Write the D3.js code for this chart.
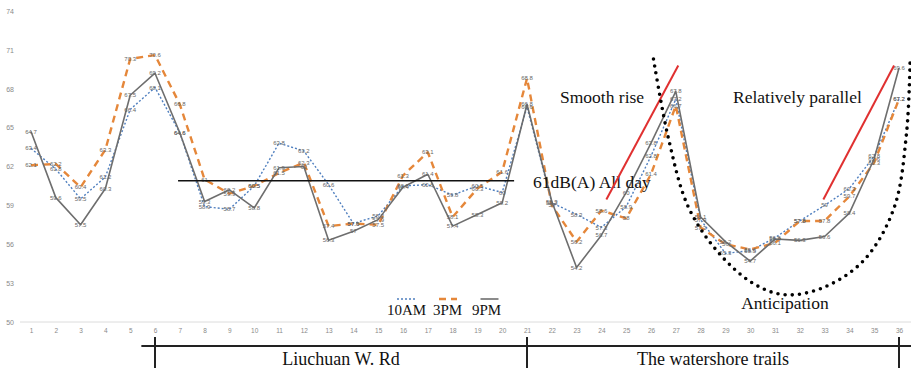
<!DOCTYPE html>
<html>
<head>
<meta charset="utf-8">
<script src="https://cdn.jsdelivr.net/npm/d3@7"></script>
<style>
  body { margin: 0; background: #fff; }
  svg { display: block; }
</style>
</head>
<body>
<div id="chart"></div>
<script>
const width = 911;
const height = 370;

const categories = [1, 2, 3, 4, 5, 6, 7, 8, 9, 10, 11, 12, 13, 14, 15, 16, 17, 18,
  19, 20, 21, 22, 23, 24, 25, 26, 27, 28, 29, 30, 31, 32, 33, 34, 35, 36];

const am10 = [63.4, 61.8, 59.5, 61.2, 66.4, 68.1, 64.6, 58.9, 58.7, 60.5, 63.8, 63.2,
  60.6, 57.6, 58.2, 60.5, 60.6, 59.8, 60.5, 60.0, 66.6, 59.2, 58.3, 57.3,
  58.9, 62.8, 67.2, 57.9, 55.3, 55.5, 56.5, 57.8, 59.0, 60.3, 62.8, 67.2];

const pm3 = [62.1, 62.2, 60.4, 63.3, 70.3, 70.6, 66.8, 61.0, 59.9, 60.5, 61.5, 62.3,
  57.4, 57.6, 57.5, 61.3, 63.1, 58.1, 60.3, 61.6, 68.8, 59.0, 56.2, 58.6,
  58.0, 61.4, 66.7, 57.3, 56.0, 55.6, 56.1, 57.8, 57.8, 59.7, 62.3, 67.2];

const pm9 = [64.7, 59.6, 57.5, 60.3, 67.5, 69.2, 64.6, 59.3, 60.2, 58.8, 61.9, 62.0,
  56.3, 57.0, 57.9, 60.4, 61.4, 57.4, 58.3, 59.2, 66.8, 59.3, 54.2, 56.7,
  60.0, 63.8, 67.8, 58.1, 56.2, 54.7, 56.4, 56.3, 56.6, 58.4, 62.6, 69.6];

const yTicks = [50, 53, 56, 59, 62, 65, 68, 71, 74];

const seriesNames = ["10AM", "3PM", "9PM"];

// sections along the bottom (category where each starts / ends)
const sections = [
  { name: "Liuchuan W. Rd", from: 6, to: 21 },
  { name: "The watershore trails", from: 21, to: 36 }
];

// annotation shapes, in data units (category, dB)
const limitLine = [[6.93, 60.9], [20.48, 60.9]];
const riseLine = [[24.2, 59.45], [27.1, 69.8]];
const parallelLine = [[32.95, 59.45], [35.8, 69.8]];
const anticipationCurve = [[26.1, 70.3], [26.7, 64.2], [27.5, 58.9], [28.7, 55.4],
  [30.1, 53.0], [31.4, 52.1], [33.0, 52.7], [34.6, 54.8], [35.8, 58.8], [36.3, 64.5], [36.45, 70.3]];

const x = d3.scaleLinear()
  .domain([1, 36])
  .range([31, 899]);

const y = d3.scaleLinear()
  .domain([50, 74])
  .range([322, 11]);

const svg = d3.select("#chart").append("svg")
  .attr("width", width)
  .attr("height", height)
  .attr("viewBox", [0, 0, width, height]);

// baseline grid line
svg.append("line")
  .attr("x1", 20).attr("x2", width)
  .attr("y1", y(50)).attr("y2", y(50))
  .attr("stroke", "#dcdcdc")
  .attr("stroke-width", 1);

svg.append("g")
  .attr("transform", "translate(15,0)")
  .call(d3.axisLeft(y).tickValues(yTicks).tickSize(0).tickPadding(1))
  .call(g => g.select(".domain").remove())
  .call(g => g.selectAll("text")
    .attr("fill", "#8a8a8a")
    .attr("font-size", 7)
    .attr("font-family", "Liberation Sans, Arial, sans-serif"));

svg.append("g")
  .attr("transform", `translate(0,${y(50)})`)
  .call(d3.axisBottom(x).tickValues(categories).tickSize(0).tickPadding(6).tickFormat(d3.format("d")))
  .call(g => g.select(".domain").remove())
  .call(g => g.selectAll("text")
    .attr("fill", "#8a8a8a")
    .attr("font-size", 6.5)
    .attr("font-family", "Liberation Sans, Arial, sans-serif"));

const styles = [
  { color: "#4f7fbf", width: 1.4, dash: "2,2" },
  { color: "#e5873a", width: 2.4, dash: "7,5" },
  { color: "#6e6e6e", width: 1.6, dash: null }
];
const allSeries = [am10, pm3, pm9];

const line = d3.line()
  .x((d, i) => x(categories[i]))
  .y(d => y(d));

svg.append("g")
  .selectAll("path")
  .data(allSeries)
  .join("path")
  .attr("fill", "none")
  .attr("stroke", (d, i) => styles[i].color)
  .attr("stroke-width", (d, i) => styles[i].width)
  .attr("stroke-dasharray", (d, i) => styles[i].dash)
  .attr("stroke-linejoin", "round")
  .attr("d", line);

// value labels on every point
allSeries.forEach((s, k) => {
  svg.append("g")
    .attr("font-family", "Liberation Sans, Arial, sans-serif")
    .attr("font-size", 6)
    .attr("fill", "#666")
    .attr("text-anchor", "middle")
    .selectAll("text")
    .data(s)
    .join("text")
    .attr("x", (d, i) => x(categories[i]))
    .attr("y", d => y(d))
    .attr("dy", "0.35em")
    .text(d => d3.format(".1f")(d).replace(/\.0$/, ""));
});

const serif = "Liberation Serif, Times New Roman, serif";
const dataLine = d3.line().x(d => x(d[0])).y(d => y(d[1]));

// 61 dB(A) limit
svg.append("path")
  .attr("d", dataLine(limitLine))
  .attr("stroke", "#111")
  .attr("stroke-width", 1.6)
  .attr("fill", "none");
svg.append("text")
  .attr("x", x(limitLine[1][0]) + 19)
  .attr("y", y(limitLine[1][1]) + 7)
  .attr("font-family", serif)
  .attr("font-size", 17.5)
  .attr("fill", "#111")
  .text("61dB(A) All day");

// trend hints
svg.append("g")
  .selectAll("path")
  .data([riseLine, parallelLine])
  .join("path")
  .attr("d", dataLine)
  .attr("stroke", "#e03030")
  .attr("stroke-width", 2)
  .attr("fill", "none");

svg.append("text")
  .attr("x", 560).attr("y", 103)
  .attr("font-family", serif)
  .attr("font-size", 17.5)
  .attr("fill", "#111")
  .text("Smooth rise");

svg.append("text")
  .attr("x", 733).attr("y", 103)
  .attr("font-family", serif)
  .attr("font-size", 17.5)
  .attr("fill", "#111")
  .text("Relatively parallel");

svg.append("path")
  .attr("d", d3.line().x(d => x(d[0])).y(d => y(d[1])).curve(d3.curveCatmullRom)(anticipationCurve))
  .attr("fill", "none")
  .attr("stroke", "#000")
  .attr("stroke-width", 3.6)
  .attr("stroke-linecap", "round")
  .attr("stroke-dasharray", "0,7.2");

svg.append("text")
  .attr("x", x(31.4)).attr("y", 309)
  .attr("text-anchor", "middle")
  .attr("font-family", serif)
  .attr("font-size", 17.5)
  .attr("fill", "#111")
  .text("Anticipation");

// legend
const legend = svg.append("g")
  .attr("font-family", serif)
  .attr("font-size", 15)
  .attr("fill", "#111");
const legendX = [387, 433, 472];
const legendW = [38, 30, 35];
seriesNames.forEach((name, i) => {
  const cx = legendX[i] + legendW[i] / 2;
  legend.append("line")
    .attr("x1", cx - 9).attr("x2", cx + 9)
    .attr("y1", 299).attr("y2", 299)
    .attr("stroke", styles[i].color)
    .attr("stroke-width", styles[i].width)
    .attr("stroke-dasharray", styles[i].dash);
  legend.append("text")
    .attr("x", legendX[i])
    .attr("y", 315)
    .text(name);
});

// section brackets
svg.append("line")
  .attr("x1", x(5.45)).attr("x2", width)
  .attr("y1", 346).attr("y2", 346)
  .attr("stroke", "#222")
  .attr("stroke-width", 2);

svg.append("g")
  .selectAll("line")
  .data([6, 21, 36])
  .join("line")
  .attr("x1", d => x(d)).attr("x2", d => x(d))
  .attr("y1", 337).attr("y2", 368)
  .attr("stroke", "#222")
  .attr("stroke-width", 2);

svg.append("g")
  .selectAll("text")
  .data(sections)
  .join("text")
  .attr("x", d => (x(d.from) + x(d.to)) / 2)
  .attr("y", 365)
  .attr("text-anchor", "middle")
  .attr("font-family", serif)
  .attr("font-size", 18)
  .attr("fill", "#111")
  .text(d => d.name);
</script>
</body>
</html>
